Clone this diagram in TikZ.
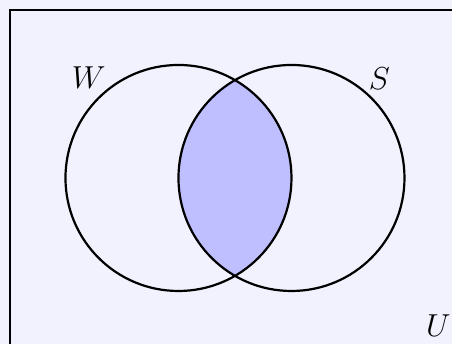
\documentclass[tikz,border=0pt]{standalone}
\begin{document}
\begin{tikzpicture}[set/.style={line width=1pt}, lbl/.style={font=\Large}]
    \fill[blue!5] (-3.743,-2.644) rectangle (3.457,2.835);
    \useasboundingbox (-3.743,-2.644) rectangle (3.457,2.835);
    \draw[line width=1pt] (-3.58,-2.67) rectangle (3.58,2.67);
    \coordinate (w) at (-0.9,0);
    \coordinate (s) at (0.9,0);
    \begin{scope}
      \clip (w) circle (1.8);
      \fill[blue!25] (s) circle (1.8);
    \end{scope}
    \draw[set] (w) circle (1.8) (s) circle (1.8);
    \node[lbl] (wlabel) at (-2.33,1.60) {$W$};
    \node[lbl] (slabel) at (2.30,1.59) {$S$};
    \node[lbl] (ulabel) at (3.24,-2.35) {$U$};
\end{tikzpicture}
\end{document}
